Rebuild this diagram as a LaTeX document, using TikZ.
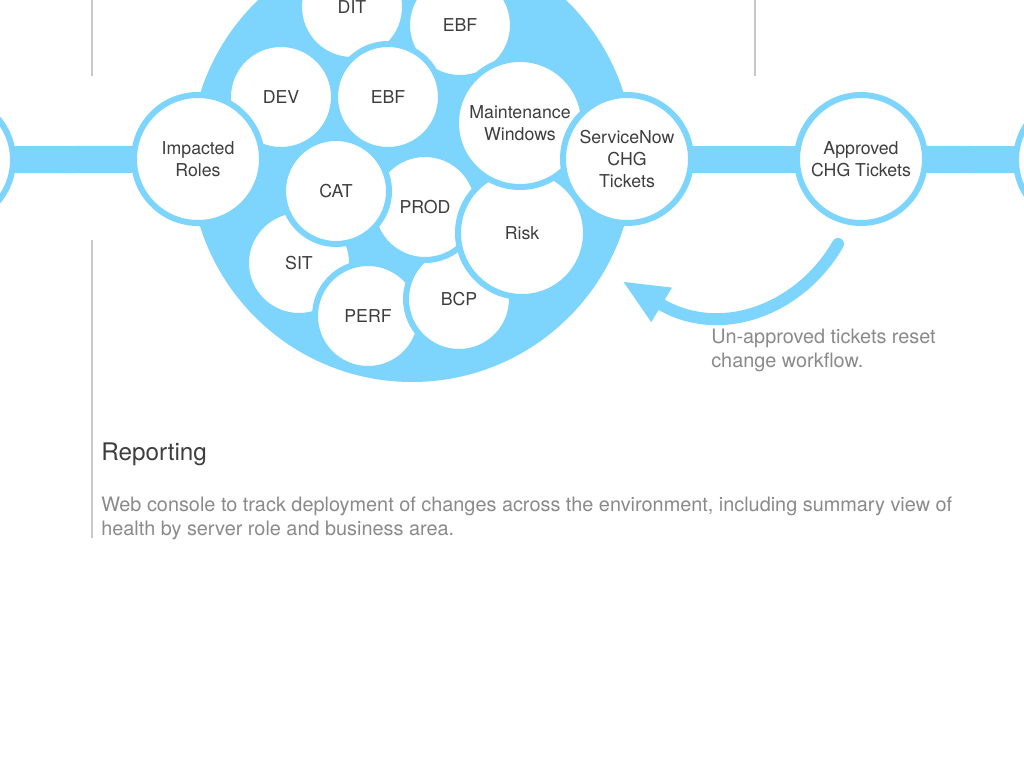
\documentclass[tikz,border=0pt]{standalone}
\usepackage{fontspec}
\setmainfont{TeX Gyre Heros}
\usetikzlibrary{arrows.meta,backgrounds}

\definecolor{skyblue}{RGB}{125,213,253}
\definecolor{labelgray}{RGB}{62,62,62}
\definecolor{notegray}{RGB}{138,138,138}
\definecolor{rulegray}{RGB}{200,200,200}

\tikzset{every picture/.style={line width=0.75pt}}
\tikzset{
  stage/.style={circle, draw=skyblue, fill=white, line width=4.5pt, minimum size=96pt, inner sep=0pt,
    align=center, text=labelgray, font=\fontsize{13.3}{16.5}\selectfont},
  envstage/.style={stage, minimum size=79.5pt},
  pipe/.style={draw=skyblue, line width=20.25pt},
  resetarrow/.style={draw=skyblue, line width=9pt, line cap=round, -{Triangle[length=34.7pt,width=27.3pt]}},
  divider/.style={draw=rulegray, line width=1.5pt},
  note/.style={text=notegray, align=left, inner sep=0pt, font=\fontsize{14.9}{17.5}\selectfont}
}

\begin{document}
\begin{tikzpicture}[x=0.75pt,y=0.75pt,yscale=-1,xscale=1]
\useasboundingbox (0,0) rectangle (1024,768);

%Straight Lines
\draw [divider] (92,0) -- (92,76) ;
\draw [divider] (92,240) -- (92,538) ;
\draw [divider] (755,0) -- (755,76) ;

% Pool
\node [circle, fill=skyblue, minimum size=333pt, inner sep=0pt] (pool) at (412,160) {};

% Environments
\node [envstage] (dit) at (352,7) {DIT};
\node [envstage] (ebftop) at (460,25) {EBF};
\node [envstage] (dev) at (281,97) {DEV};
\node [envstage] (ebf) at (388,97) {EBF};
\node [envstage] (sit) at (299,263) {SIT};
\node [envstage] (perf) at (368,316) {PERF};
\node [envstage] (bcp) at (459,299) {BCP};
\node [envstage] (prod) at (425,207) {PROD};
\node [envstage] (cat) at (336,191) {CAT};
\node [stage] (risk) at (522,233) {Risk};
\node [stage] (maint) at (520,123) {Maintenance\\Windows};

% Stages
\node [stage] (prev) at (-51,160) {};
\node [stage] (roles) at (198,159) {Impacted\\Roles};
\node [stage] (snow) at (627,159) {ServiceNow\\CHG\\Tickets};
\node [stage] (appr) at (861,159) {Approved\\CHG Tickets};
\node [stage] (next) at (1080,160) {};

%Pipes
\begin{pgfonlayer}{background}
\draw [pipe] (prev.center) -- (roles.center) ;
\draw [pipe] (snow.center) -- (appr.center) ;
\draw [pipe] (appr.center) -- (next.center) ;
\end{pgfonlayer}

%Curve Lines
\coordinate (retry) at (838,244);
\coordinate (back) at (622,281);
\draw [resetarrow] (retry) .. controls (800,310) and (720,340) .. (back) ;

% Text Node
\node [note, anchor=base west] (resetnote) at (711,367) {Un-approved tickets reset\\change workflow.};
% Text Node
\node [anchor=base west, inner sep=0pt, text=labelgray, font=\fontsize{18.2}{21}\selectfont] (reporting) at (101,460) {Reporting};
% Text Node
\node [note, anchor=base west] (reportnote) at (101,535) {Web console to track deployment of changes across the environment, including summary view of\\health by server role and business area.};
\end{tikzpicture}
\end{document}
